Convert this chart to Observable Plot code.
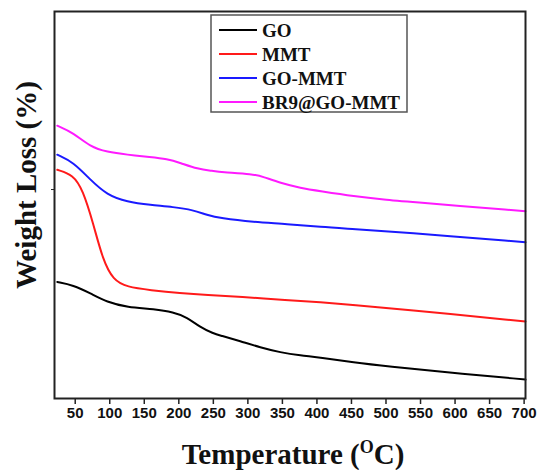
<!DOCTYPE html>
<html>
<head>
<meta charset="utf-8">
<script src="https://cdn.jsdelivr.net/npm/d3@7"></script>
<script src="https://cdn.jsdelivr.net/npm/@observablehq/plot@0.6"></script>
<style>
  html, body { margin: 0; padding: 0; background: #fff; }
  #chart { position: relative; width: 542px; height: 470px; }
</style>
</head>
<body>
<div id="chart"></div>
<script>
// Series names and colours
const seriesNames = ["GO", "MMT", "GO-MMT", "BR9@GO-MMT"];
const seriesColors = ["#000000", "#ff1a1a", "#1a1aff", "#ff1aff"];

// Temperature (°C) / relative weight values
const goT = [24, 47, 72, 96, 125, 165, 192, 212, 231, 250, 260, 289, 318, 347, 376, 405, 453, 502, 593, 702];
const goW = [30.1, 29.3, 27.2, 24.9, 23.6, 23.1, 22.3, 21.0, 18.4, 16.8, 16.3, 14.8, 13.2, 11.9, 11.1, 10.6, 9.3, 8.3, 6.7, 4.9];

const mmtT = [24, 47, 61, 76, 90, 105, 125, 159, 202, 241, 289, 357, 405, 453, 521, 702];
const mmtW = [59.1, 57.8, 53.9, 45.3, 35.8, 30.6, 28.8, 28.0, 27.2, 26.7, 26.3, 25.4, 24.9, 24.1, 23.1, 19.9];

const gommtT = [24, 47, 72, 96, 125, 159, 192, 221, 241, 260, 308, 357, 405, 453, 521, 702];
const gommtW = [63.0, 61.1, 56.5, 52.6, 50.8, 50.0, 49.5, 48.7, 47.4, 46.6, 45.6, 45.1, 44.3, 43.8, 43.0, 40.4];

const br9T = [24, 47, 72, 96, 125, 159, 183, 202, 227, 250, 260, 308, 322, 347, 376, 405, 453, 502, 521, 702];
const br9W = [70.5, 68.7, 65.0, 63.7, 63.0, 62.4, 61.9, 60.9, 59.3, 58.8, 58.5, 58.0, 57.3, 55.7, 54.4, 53.6, 52.3, 51.3, 51.0, 48.4];

const xTicks = [50, 100, 150, 200, 250, 300, 350, 400, 450, 500, 550, 600, 650, 700];
const yTicks = [54];

const allT = [goT, mmtT, gommtT, br9T];
const allW = [goW, mmtW, gommtW, br9W];
const data = [];
seriesNames.forEach((name, i) => {
  allT[i].forEach((t, j) => data.push({series: name, T: t, W: allW[i][j]}));
});

const plot = Plot.plot({
  width: 542,
  height: 470,
  marginLeft: 54,
  marginRight: 17,
  marginTop: 11,
  marginBottom: 72,
  style: {fontFamily: "'Liberation Sans', Arial, sans-serif", background: "#fff"},
  x: {domain: [20, 702]},
  y: {domain: [0, 100]},
  color: {domain: seriesNames, range: seriesColors},
  marks: [
    Plot.line(data, {x: "T", y: "W", z: "series", stroke: "series", strokeWidth: 2, curve: "basis"}),
    Plot.axisX({ticks: xTicks, tickSize: 6, tickPadding: 3, label: null, fontSize: 15, fontWeight: "bold", stroke: "#222", strokeWidth: 1.5, color: "#111"}),
    Plot.axisY({ticks: yTicks, tickSize: 3, tickFormat: () => "", label: null, stroke: "#222"}),
    Plot.frame({stroke: "#222", strokeWidth: 2})
  ]
});

document.getElementById("chart").appendChild(plot);

const svg = d3.select(plot);
svg.selectAll("[aria-label='x-axis tick label'] text").style("font-weight", "bold").style("font-size", "15px");

const serif = "'Liberation Serif', 'Times New Roman', serif";

// X axis title with superscript
const xt = svg.append("text")
  .attr("x", 293).attr("y", 464)
  .attr("text-anchor", "middle")
  .style("font-family", serif)
  .style("font-weight", "bold")
  .style("font-size", "29px")
  .attr("fill", "#111");
xt.append("tspan").text("Temperature (");
xt.append("tspan").text("O").attr("dy", -11).style("font-size", "18px");
xt.append("tspan").text("C)").attr("dy", 11);

// Y axis title
svg.append("text")
  .attr("transform", "translate(36,185) rotate(-90)")
  .attr("text-anchor", "middle")
  .style("font-family", serif)
  .style("font-weight", "bold")
  .style("font-size", "29px")
  .attr("fill", "#111")
  .text("Weight Loss (%)");

// Legend
const lg = svg.append("g").attr("text-anchor", "start");
lg.append("rect").attr("x", 211).attr("y", 15).attr("width", 196).attr("height", 97)
  .attr("fill", "#fff").attr("stroke", "#555").attr("stroke-width", 1.5);
seriesNames.forEach((name, i) => {
  const yy = 30 + i * 24;
  lg.append("line").attr("x1", 219).attr("x2", 257).attr("y1", yy).attr("y2", yy)
    .attr("stroke", seriesColors[i]).attr("stroke-width", 2);
  lg.append("text").attr("x", 262).attr("y", yy).attr("dy", "0.35em")
    .attr("text-anchor", "start")
    .style("font-family", serif)
    .style("font-weight", "bold").style("font-size", "19px").attr("fill", "#111")
    .text(name);
});
</script>
</body>
</html>
